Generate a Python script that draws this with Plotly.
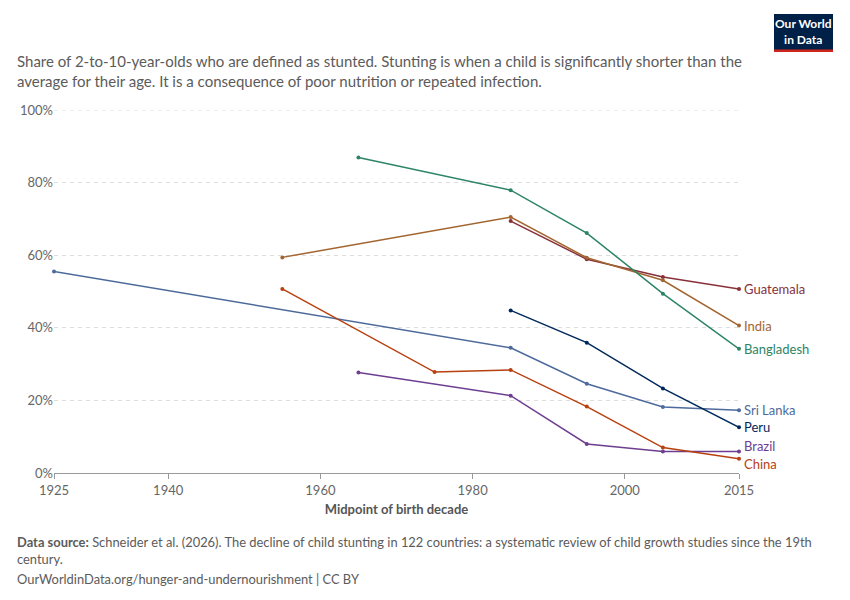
import plotly.graph_objects as go

# midpoint of birth decade
guatemala_x = [1985, 1995, 2005, 2015]
guatemala_y = [69.4, 58.9, 54.0, 50.7]

india_x = [1955, 1985, 1995, 2005, 2015]
india_y = [59.4, 70.5, 59.3, 53.1, 40.6]

bangladesh_x = [1965, 1985, 1995, 2005, 2015]
bangladesh_y = [86.9, 77.9, 66.1, 49.4, 34.2]

srilanka_x = [1925, 1985, 1995, 2005, 2015]
srilanka_y = [55.5, 34.5, 24.6, 18.2, 17.3]

peru_x = [1985, 1995, 2005, 2015]
peru_y = [44.8, 35.9, 23.3, 12.6]

brazil_x = [1965, 1985, 1995, 2005, 2015]
brazil_y = [27.7, 21.3, 8.0, 5.9, 5.9]

china_x = [1955, 1975, 1985, 1995, 2005, 2015]
china_y = [50.7, 27.8, 28.4, 18.3, 7.0, 3.9]

x_ticks = [1925, 1940, 1960, 1980, 2000, 2015]
y_ticks = [0, 20, 40, 60, 80, 100]
y_labels = ["0%", "20%", "40%", "60%", "80%", "100%"]

series = [
    ("Guatemala", guatemala_x, guatemala_y, "#883039"),
    ("India", india_x, india_y, "#A2652F"),
    ("Bangladesh", bangladesh_x, bangladesh_y, "#2C8465"),
    ("Sri Lanka", srilanka_x, srilanka_y, "#4C6A9C"),
    ("Peru", peru_x, peru_y, "#00295B"),
    ("Brazil", brazil_x, brazil_y, "#6D3E91"),
    ("China", china_x, china_y, "#B8400F"),
]

# small vertical nudges (in % units) so end labels don't collide
label_nudge = {"Brazil": 1.6, "China": -1.3}

# page has an 8px body margin, so work in page pixels and shift
OFF = 8
FW, FH = 850 - OFF, 600 - OFF
L, R, T, B = 54 - OFF, 739 - OFF, 110 - OFF, 473 - OFF
W, H = R - L, B - T
GRID = dict(color="#ddd", width=1, dash="4px,4px")


def px_x(p):
    return (p - OFF - L) / W


def px_y(p):
    return (B - (p - OFF)) / H


fig = go.Figure()

# top gridline sits on the range edge, plotly skips it, so draw it
fig.add_shape(type="line", xref="paper", yref="y", x0=0, x1=1,
              y0=y_ticks[-1], y1=y_ticks[-1], line=GRID, layer="below")

for name, xs, ys, col in series:
    fig.add_trace(go.Scatter(
        x=xs, y=ys, mode="lines+markers", name=name,
        line=dict(color=col, width=1.5),
        marker=dict(color=col, size=4),
        cliponaxis=False, showlegend=False,
    ))
    fig.add_annotation(
        x=xs[-1], y=ys[-1] + label_nudge.get(name, 0),
        text=name, showarrow=False, xanchor="left", yanchor="middle",
        xshift=3, font=dict(family="Lato", size=13, color=col),
    )

fig.update_xaxes(
    range=[1925, 2015], tickvals=x_ticks, showgrid=False, zeroline=False,
    showline=True, linecolor="#999", linewidth=1,
    ticks="outside", ticklen=5, tickcolor="#999",
    tickfont=dict(family="Lato", size=13, color="#666"),
    title=dict(text="Midpoint of birth decade", standoff=8,
               font=dict(family="Lato", size=13, color="#555", weight=700)),
)
fig.update_yaxes(
    range=[0, 100], tickvals=y_ticks, ticktext=y_labels,
    showgrid=True, gridcolor=GRID["color"], griddash=GRID["dash"], gridwidth=1,
    zeroline=False, showline=False, ticks="",
    tickfont=dict(family="Lato", size=13, color="#666"),
)

fig.add_annotation(
    xref="paper", yref="paper", x=px_x(15), y=px_y(50),
    xanchor="left", yanchor="top", align="left", showarrow=False,
    text="Share of 2-to-10-year-olds who are defined as stunted. Stunting is when a child is significantly shorter than the<br>"
         "average for their age. It is a consequence of poor nutrition or repeated infection.",
    font=dict(family="Lato", size=15, color="#5b5b5b"),
)

fig.add_annotation(
    xref="paper", yref="paper", x=px_x(15), y=px_y(532),
    xanchor="left", yanchor="top", align="left", showarrow=False,
    text="<b>Data source:</b> Schneider et al. (2026). The decline of child stunting in 122 countries: a systematic review of child growth studies since the 19th<br>"
         "century.",
    font=dict(family="Lato", size=12.9, color="#5b5b5b"),
)
fig.add_annotation(
    xref="paper", yref="paper", x=px_x(15), y=px_y(569),
    xanchor="left", yanchor="top", align="left", showarrow=False,
    text="OurWorldinData.org/hunger-and-undernourishment | CC BY",
    font=dict(family="Lato", size=12.9, color="#5b5b5b"),
)

# logo
fig.add_shape(type="rect", xref="paper", yref="paper",
              x0=px_x(774), x1=px_x(833), y0=px_y(52), y1=px_y(14),
              fillcolor="#002147", line_width=0)
fig.add_shape(type="rect", xref="paper", yref="paper",
              x0=px_x(774), x1=px_x(833), y0=px_y(52), y1=px_y(49.5),
              fillcolor="#CE261E", line_width=0)
fig.add_annotation(
    xref="paper", yref="paper", x=px_x(803.5), y=px_y(31.5),
    text="Our World<br>in Data", showarrow=False, align="center",
    xanchor="center", yanchor="middle",
    font=dict(family="Lato", size=12, color="white", weight=700),
)

fig.update_layout(
    width=FW, height=FH,
    margin=dict(l=L, r=FW - R, t=T, b=FH - B),
    paper_bgcolor="white", plot_bgcolor="white",
    font=dict(family="Lato"),
)

fig.write_html("out.html")
